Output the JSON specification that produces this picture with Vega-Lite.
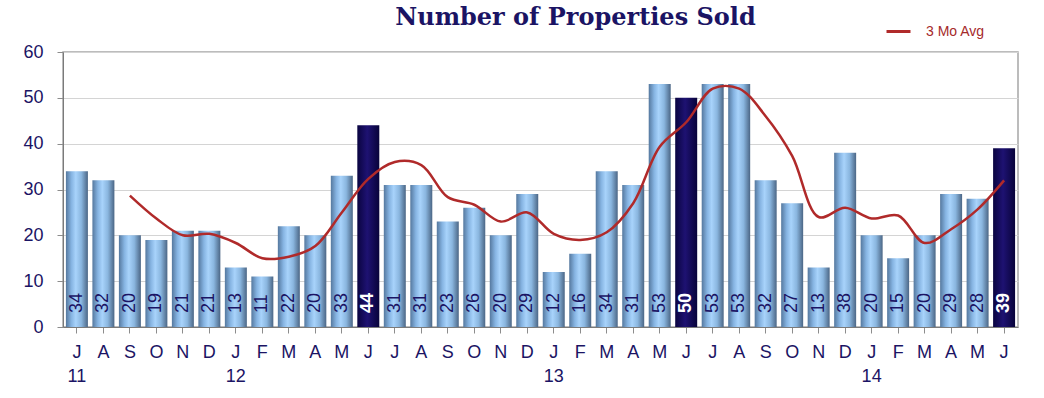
{
  "$schema": "https://vega.github.io/schema/vega-lite/v6.json",
  "width": 955,
  "height": 275,
  "autosize": {"type": "none"},
  "padding": {"left": 63, "top": 52, "right": 26, "bottom": 71},
  "background": "white",
  "config": {
    "view": {"stroke": "#a6a6a6", "strokeWidth": 1.5}
  },
  "title": {
    "text": "Number of Properties Sold",
    "font": "DejaVu Serif",
    "fontSize": 24,
    "fontWeight": "bold",
    "color": "#1b1464",
    "anchor": "middle",
    "dx": 35,
    "dy": 28,
    "offset": 16
  },
  "data": {
    "values": [
      {"date": "2011-07", "m": "J", "yr": "11", "sold": 34, "avg": null},
      {"date": "2011-08", "m": "A", "yr": "", "sold": 32, "avg": null},
      {"date": "2011-09", "m": "S", "yr": "", "sold": 20, "avg": 28.67},
      {"date": "2011-10", "m": "O", "yr": "", "sold": 19, "avg": 23.67},
      {"date": "2011-11", "m": "N", "yr": "", "sold": 21, "avg": 20.0},
      {"date": "2011-12", "m": "D", "yr": "", "sold": 21, "avg": 20.33},
      {"date": "2012-01", "m": "J", "yr": "12", "sold": 13, "avg": 18.33},
      {"date": "2012-02", "m": "F", "yr": "", "sold": 11, "avg": 15.0},
      {"date": "2012-03", "m": "M", "yr": "", "sold": 22, "avg": 15.33},
      {"date": "2012-04", "m": "A", "yr": "", "sold": 20, "avg": 17.67},
      {"date": "2012-05", "m": "M", "yr": "", "sold": 33, "avg": 25.0},
      {"date": "2012-06", "m": "J", "yr": "", "sold": 44, "avg": 32.33},
      {"date": "2012-07", "m": "J", "yr": "", "sold": 31, "avg": 36.0},
      {"date": "2012-08", "m": "A", "yr": "", "sold": 31, "avg": 35.33},
      {"date": "2012-09", "m": "S", "yr": "", "sold": 23, "avg": 28.33},
      {"date": "2012-10", "m": "O", "yr": "", "sold": 26, "avg": 26.67},
      {"date": "2012-11", "m": "N", "yr": "", "sold": 20, "avg": 23.0},
      {"date": "2012-12", "m": "D", "yr": "", "sold": 29, "avg": 25.0},
      {"date": "2013-01", "m": "J", "yr": "13", "sold": 12, "avg": 20.33},
      {"date": "2013-02", "m": "F", "yr": "", "sold": 16, "avg": 19.0},
      {"date": "2013-03", "m": "M", "yr": "", "sold": 34, "avg": 20.67},
      {"date": "2013-04", "m": "A", "yr": "", "sold": 31, "avg": 27.0},
      {"date": "2013-05", "m": "M", "yr": "", "sold": 53, "avg": 39.33},
      {"date": "2013-06", "m": "J", "yr": "", "sold": 50, "avg": 44.67},
      {"date": "2013-07", "m": "J", "yr": "", "sold": 53, "avg": 52.0},
      {"date": "2013-08", "m": "A", "yr": "", "sold": 53, "avg": 52.0},
      {"date": "2013-09", "m": "S", "yr": "", "sold": 32, "avg": 46.0},
      {"date": "2013-10", "m": "O", "yr": "", "sold": 27, "avg": 37.33},
      {"date": "2013-11", "m": "N", "yr": "", "sold": 13, "avg": 24.0},
      {"date": "2013-12", "m": "D", "yr": "", "sold": 38, "avg": 26.0},
      {"date": "2014-01", "m": "J", "yr": "14", "sold": 20, "avg": 23.67},
      {"date": "2014-02", "m": "F", "yr": "", "sold": 15, "avg": 24.33},
      {"date": "2014-03", "m": "M", "yr": "", "sold": 20, "avg": 18.33},
      {"date": "2014-04", "m": "A", "yr": "", "sold": 29, "avg": 21.33},
      {"date": "2014-05", "m": "M", "yr": "", "sold": 28, "avg": 25.67},
      {"date": "2014-06", "m": "J", "yr": "", "sold": 39, "avg": 32.0}
    ]
  },
  "encoding": {
    "x": {
      "field": "date",
      "type": "ordinal",
      "sort": "ascending",
      "scale": {"paddingInner": 0.17, "paddingOuter": 0.11},
      "axis": {
        "title": null,
        "labels": false,
        "tickSize": 6,
        "tickColor": "#8c8c8c",
        "domainColor": "#7a7a7a",
        "grid": false
      }
    }
  },
  "layer": [
    {
      "mark": {
        "type": "bar",
        "color": {
          "gradient": "linear",
          "x1": 0, "x2": 1, "y1": 0, "y2": 0,
          "stops": [
            {"offset": 0, "color": "#55789e"},
            {"offset": 0.25, "color": "#86b4e2"},
            {"offset": 0.45, "color": "#a8d3fb"},
            {"offset": 0.7, "color": "#8ab6df"},
            {"offset": 1, "color": "#4b6685"}
          ]
        }
      },
      "encoding": {
        "y": {
          "field": "sold",
          "type": "quantitative",
          "scale": {"domain": [0, 60]},
          "axis": {
            "title": null,
            "labelFontSize": 18,
            "labelColor": "#1b1464",
            "labelPadding": 14,
            "tickSize": 6,
            "tickColor": "#8c8c8c",
            "domainColor": "#7a7a7a",
            "gridColor": "#d4d4d4"
          }
        },
        "opacity": {"condition": {"test": "indexof(datum.date, '-06') >= 0", "value": 0}, "value": 1}
      }
    },
    {
      "mark": {
        "type": "bar",
        "color": {
          "gradient": "linear",
          "x1": 0, "x2": 1, "y1": 0, "y2": 0,
          "stops": [
            {"offset": 0, "color": "#0a0440"},
            {"offset": 0.45, "color": "#1e1272"},
            {"offset": 1, "color": "#08033a"}
          ]
        }
      },
      "encoding": {
        "y": {"field": "sold", "type": "quantitative"},
        "opacity": {"condition": {"test": "indexof(datum.date, '-06') >= 0", "value": 1}, "value": 0}
      }
    },
    {
      "mark": {
        "type": "text",
        "angle": 270,
        "align": "left",
        "baseline": "middle",
        "dx": 14,
        "font": "Liberation Sans",
        "fontSize": 18,
        "color": "#1b1464"
      },
      "encoding": {
        "y": {"datum": 0, "type": "quantitative"},
        "text": {"field": "sold", "type": "quantitative"},
        "opacity": {"condition": {"test": "indexof(datum.date, '-06') >= 0", "value": 0}, "value": 1}
      }
    },
    {
      "mark": {
        "type": "text",
        "angle": 270,
        "align": "left",
        "baseline": "middle",
        "dx": 14,
        "font": "Liberation Sans",
        "fontSize": 18,
        "fontWeight": "bold",
        "color": "white"
      },
      "encoding": {
        "y": {"datum": 0, "type": "quantitative"},
        "text": {"field": "sold", "type": "quantitative"},
        "opacity": {"condition": {"test": "indexof(datum.date, '-06') >= 0", "value": 1}, "value": 0}
      }
    },
    {
      "mark": {
        "type": "text",
        "align": "center",
        "baseline": "top",
        "dy": 17,
        "font": "Liberation Sans",
        "fontSize": 18,
        "color": "#1b1464"
      },
      "encoding": {
        "y": {"datum": 0, "type": "quantitative"},
        "text": {"field": "m", "type": "nominal"}
      }
    },
    {
      "mark": {
        "type": "text",
        "align": "center",
        "baseline": "top",
        "dy": 41,
        "font": "Liberation Sans",
        "fontSize": 18,
        "color": "#1b1464"
      },
      "encoding": {
        "y": {"datum": 0, "type": "quantitative"},
        "text": {"field": "yr", "type": "nominal"}
      }
    },
    {
      "mark": {"type": "line", "interpolate": "catmull-rom", "strokeWidth": 2.5},
      "encoding": {
        "y": {"field": "avg", "type": "quantitative"},
        "color": {
          "datum": "3 Mo Avg",
          "scale": {"range": ["#b02a2a"]},
          "legend": {
            "title": null,
            "orient": "none",
            "legendX": 822,
            "legendY": -34,
            "symbolType": "stroke",
            "symbolSize": 576,
            "symbolStrokeWidth": 3,
            "labelFont": "Liberation Sans",
            "labelFontSize": 14,
            "labelColor": "#a52a2a",
            "labelOffset": 14
          }
        }
      }
    }
  ]
}
